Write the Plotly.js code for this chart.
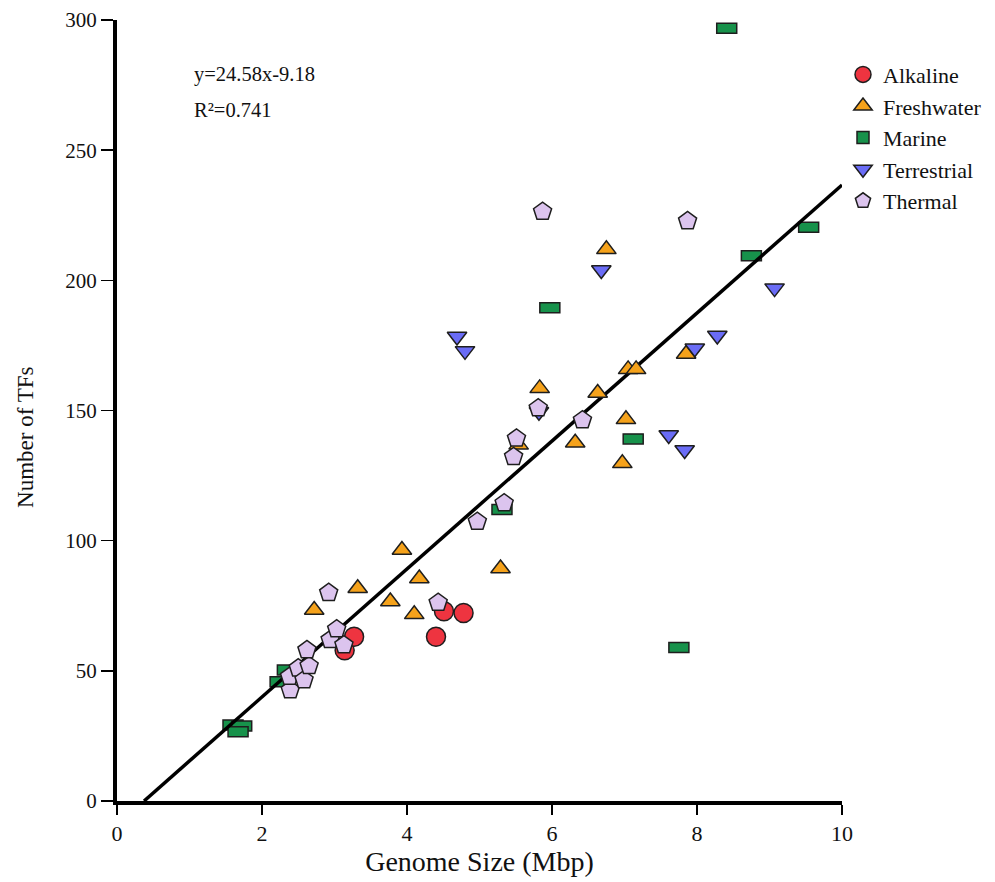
<!DOCTYPE html>
<html>
<head>
<meta charset="utf-8">
<script src="https://cdn.plot.ly/plotly-3.0.1.min.js"></script>
<style>html,body{margin:0;padding:0;background:#fff;}#chart{width:995px;height:882px;}</style>
</head>
<body>
<div id="chart"></div>
<script>
// ---- data (Genome size in Mbp, number of TFs) ----
const alkalineX = [3.14, 3.27, 4.40, 4.51, 4.78];
const alkalineY = [57.9, 63.1, 63.1, 72.9, 72.2];

const freshwaterX = [2.72, 3.32, 3.77, 3.93, 4.17, 4.10, 5.29, 5.54, 5.83, 6.32, 6.63, 6.75, 6.97, 7.02, 7.05, 7.16, 7.85];
const freshwaterY = [73.4, 81.7, 76.6, 96.4, 85.5, 71.7, 89.3, 136.8, 158.5, 137.6, 156.7, 211.9, 129.7, 146.6, 165.8, 165.8, 171.7];

const marineX = [1.60, 1.72, 1.67, 2.25, 2.35, 5.31, 5.97, 7.12, 7.75, 8.41, 8.75, 9.54];
const marineY = [29.2, 28.8, 26.6, 45.8, 50.3, 112.0, 189.5, 139.1, 59.0, 296.8, 209.4, 220.4];

const terrestrialX = [4.69, 4.80, 5.82, 6.68, 7.61, 7.83, 7.97, 8.28, 9.07];
const terrestrialY = [178.4, 172.9, 149.5, 204.0, 140.6, 134.8, 173.9, 178.8, 197.0];

const thermalX = [2.39, 2.38, 2.50, 2.58, 2.65, 2.62, 2.92, 2.94, 3.03, 3.13, 4.43, 4.97, 5.34, 5.47, 5.51, 5.81, 5.87, 6.42, 7.87];
const thermalY = [42.6, 47.8, 51.0, 46.5, 51.9, 58.0, 80.0, 61.9, 66.0, 59.9, 76.2, 107.3, 114.4, 132.2, 139.3, 150.9, 226.4, 146.3, 222.8];

// regression: y = 24.58x - 9.18
const fitSlope = 24.58;
const fitIntercept = -9.18;
const fitXStart = -fitIntercept / fitSlope;
const fitXEnd = 10;

const xTicks = [0, 2, 4, 6, 8, 10];
const yTicks = [0, 50, 100, 150, 200, 250, 300];

const FONT = 'Liberation Serif, Times New Roman, serif';
const edge = '#1e1e1e';

const fitTrace = {
  x: [fitXStart, fitXEnd],
  y: [fitSlope * fitXStart + fitIntercept, fitSlope * fitXEnd + fitIntercept],
  mode: 'lines', line: {color: '#000', width: 3.5},
  showlegend: false, hoverinfo: 'skip'
};

function pts(name, xs, ys, symbol, color, size, rank) {
  return {
    x: xs, y: ys, name: name, type: 'scatter', mode: 'markers', cliponaxis: false,
    legendrank: rank,
    marker: {symbol: symbol, color: color, size: size, line: {color: edge, width: 1.5}}
  };
}

const traces = [
  fitTrace,
  pts('Alkaline', alkalineX, alkalineY, 'circle', '#EE3440', 19, 1),
  pts('Freshwater', freshwaterX, freshwaterY, 'triangle-up', '#F5A21B', 17, 2),
  pts('Terrestrial', terrestrialX, terrestrialY, 'triangle-down', '#6A6CF6', 17, 4),
  pts('Thermal', thermalX, thermalY, 'pentagon', '#DCC4EE', 19, 5)
];

const marineShapes = marineX.map((x, i) => ({
  type: 'rect', xref: 'x', yref: 'y',
  xsizemode: 'pixel', ysizemode: 'pixel',
  xanchor: x, yanchor: marineY[i],
  x0: -10, x1: 10, y0: -5, y1: 5,
  fillcolor: '#17924B', line: {color: edge, width: 1.5},
  layer: 'below',
  name: 'Marine', legendgroup: 'marine', legendrank: 3,
  showlegend: i === 0
}));

// plot area: x from 117px to 842px, y from 20px to 801px
const W = 995 - 117;            // paper width with r margin 0
const xDomEnd = 725 / W;

const layout = {
  width: 995, height: 882,
  margin: {l: 117, r: 0, t: 20, b: 81},
  paper_bgcolor: '#fff', plot_bgcolor: '#fff',
  font: {family: FONT, color: '#111', size: 19},
  showlegend: true,
  legend: {
    x: 726 / W, xanchor: 'left', y: 0.957, yanchor: 'top',
    font: {family: FONT, size: 22, color: '#111'},
    bgcolor: 'rgba(0,0,0,0)', itemwidth: 30, tracegroupgap: 0
  },
  xaxis: {
    domain: [0, xDomEnd],
    range: [0, 10], tickvals: xTicks, ticktext: xTicks.map(String),
    showline: true, linecolor: '#000', linewidth: 4,
    ticks: 'outside', ticklen: 10, tickwidth: 1.5, tickcolor: '#000',
    showgrid: false, zeroline: false,
    tickfont: {family: FONT, size: 22},
    title: {text: 'Genome Size (Mbp)', font: {family: FONT, size: 28}, standoff: 4}
  },
  yaxis: {
    range: [0, 300], tickvals: yTicks, ticktext: yTicks.map(String),
    showline: true, linecolor: '#000', linewidth: 4,
    ticks: 'outside', ticklen: 12, tickwidth: 1.5, tickcolor: '#000',
    showgrid: false, zeroline: false,
    tickfont: {family: FONT, size: 21}
  },
  shapes: marineShapes,
  annotations: [
    {xref: 'x domain', yref: 'y domain', x: 0.1034, y: 0.93, xanchor: 'left', yanchor: 'middle',
     text: 'y=24.58x-9.18', showarrow: false, font: {family: FONT, size: 20.5, color: '#111'}},
    {xref: 'x domain', yref: 'y domain', x: 0.1034, y: 0.885, xanchor: 'left', yanchor: 'middle',
     text: 'R²=0.741', showarrow: false, font: {family: FONT, size: 20.5, color: '#111'}},
    {xref: 'x domain', yref: 'y domain', x: -0.127, y: 0.466, xanchor: 'center', yanchor: 'middle',
     textangle: -90, text: 'Number of TFs', showarrow: false, font: {family: FONT, size: 23, color: '#111'}}
  ]
};

Plotly.newPlot('chart', traces, layout, {displayModeBar: false, staticPlot: true});
</script>
</body>
</html>
